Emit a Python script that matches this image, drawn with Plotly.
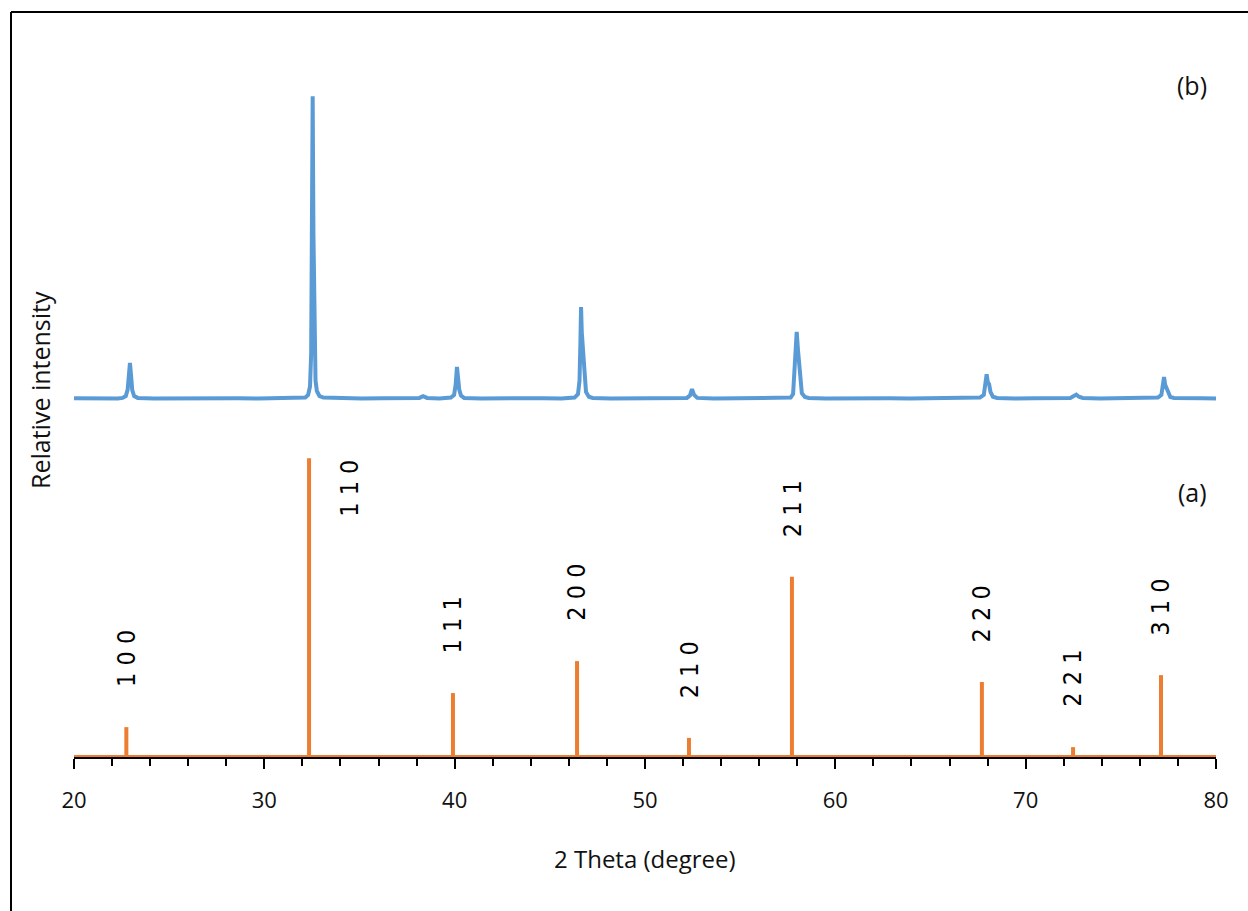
import plotly.graph_objects as go

# ---- Reference stick pattern (a): peak positions (2θ, degree) and relative intensities (%)
ref_two_theta = [22.75, 32.35, 39.91, 46.43, 52.31, 57.72, 67.70, 72.49, 77.11]
ref_intensity = [10.0, 100.0, 21.4, 32.1, 6.4, 60.3, 25.1, 3.3, 27.4]
ref_hkl = ["1 0 0", "1 1 0", "1 1 1", "2 0 0", "2 1 0", "2 1 1", "2 2 0", "2 2 1", "3 1 0"]

# ---- Measured pattern (b): 2θ (degree) and intensity above its own baseline
meas_two_theta = [
    20.00, 20.80, 21.60, 22.30,
    22.55, 22.72, 22.82, 22.88, 22.94, 23.00, 23.06, 23.16, 23.35,
    24.20, 25.30, 26.40, 27.50, 28.60, 29.70, 30.80, 31.60,
    32.15, 32.30, 32.40, 32.46, 32.50, 32.54, 32.58, 32.61, 32.64, 32.69, 32.76, 32.90, 33.10,
    34.00, 35.10, 36.20, 37.30,
    38.15, 38.34, 38.55,
    39.20,
    39.80, 39.97, 40.05, 40.12, 40.18, 40.24, 40.33, 40.50,
    41.40, 42.50, 43.60, 44.70, 45.60,
    46.30, 46.48, 46.56, 46.61, 46.64, 46.68, 46.73, 46.78, 46.83, 46.90, 47.05, 47.25,
    48.20, 49.30, 50.40, 51.40,
    52.20, 52.36, 52.47, 52.58, 52.75,
    53.60, 54.70, 55.80, 56.90,
    57.65, 57.78, 57.84, 57.88, 57.97, 58.04, 58.10, 58.16, 58.24, 58.40, 58.60,
    59.50, 60.60, 61.70, 62.80, 63.90, 65.00, 66.10, 67.00,
    67.60, 67.80, 67.88, 67.95, 68.01, 68.08, 68.15, 68.28, 68.50,
    69.40, 70.50, 71.60,
    72.35, 72.55, 72.66, 72.80, 73.00,
    73.90, 75.00, 76.10,
    76.95, 77.13, 77.21, 77.27, 77.33, 77.40, 77.48, 77.60, 77.80,
    78.60, 79.30, 80.00,
]
meas_intensity = [
    0.1, 0.0, 0.1, 0.0,
    0.2, 0.8, 3.0, 8.0, 11.9, 7.5, 2.8, 0.8, 0.2,
    0.0, 0.1, 0.0, 0.1, 0.1, 0.0, 0.1, 0.1,
    0.3, 1.2, 4.0, 15.0, 50.0, 101.2, 55.0, 30.0, 15.0, 6.0, 2.5, 0.8, 0.3,
    0.1, 0.0, 0.1, 0.0,
    0.2, 0.8, 0.2,
    0.0,
    0.3, 1.2, 4.5, 10.6, 7.0, 3.0, 1.0, 0.2,
    0.0, 0.1, 0.0, 0.1, 0.0,
    0.3, 1.5, 6.0, 20.0, 30.6, 22.0, 17.5, 15.0, 7.0, 2.2, 0.6, 0.2,
    0.0, 0.1, 0.0, 0.1,
    0.2, 1.0, 3.1, 1.2, 0.2,
    0.0, 0.1, 0.0, 0.1,
    0.3, 1.5, 8.0, 17.5, 22.3, 16.0, 10.5, 5.0, 1.8, 0.5, 0.2,
    0.0, 0.1, 0.0, 0.1, 0.0, 0.1, 0.0, 0.1,
    0.3, 1.2, 4.5, 8.1, 5.5, 4.8, 2.2, 0.6, 0.2,
    0.0, 0.1, 0.0,
    0.2, 0.9, 1.3, 0.6, 0.2,
    0.0, 0.1, 0.0,
    0.3, 1.2, 4.5, 7.2, 4.6, 3.6, 1.8, 0.5, 0.2,
    0.0, 0.1, 0.0,
]

# vertical offset that stacks pattern (b) above pattern (a)
STACK_OFFSET = 120.0

ORANGE = "#ED7D31"
BLUE = "#5B9BD5"
TEXT = "#111111"
FONT = "Open Sans, Noto Sans, sans-serif"
HKL_FONT = "DejaVu Sans Condensed, DejaVu Sans, sans-serif"

W, H = 1248, 911
ML, MR, MT, MB = 74, 32, 40, 154
PW, PH = W - ML - MR, H - MT - MB


def px_to_paper(px, py):
    """Convert a page pixel position into paper coordinates."""
    return (px - ML) / PW, (H - MB - py) / PH


fig = go.Figure()

# measured pattern (b)
fig.add_trace(go.Scatter(
    x=meas_two_theta,
    y=[STACK_OFFSET + v for v in meas_intensity],
    mode="lines",
    line=dict(color=BLUE, width=4),
    showlegend=False,
    hoverinfo="skip",
))

# baseline of stick pattern (a)
fig.add_trace(go.Scatter(
    x=[20, 80], y=[0, 0],
    mode="lines",
    line=dict(color=ORANGE, width=4),
    showlegend=False,
    hoverinfo="skip",
))

# sticks of pattern (a)
stick_x, stick_y = [], []
for tt, inten in zip(ref_two_theta, ref_intensity):
    stick_x += [tt, tt, None]
    stick_y += [0, inten, None]
fig.add_trace(go.Scatter(
    x=stick_x, y=stick_y,
    mode="lines",
    line=dict(color=ORANGE, width=4),
    showlegend=False,
    hoverinfo="skip",
))

annotations = []

# Miller index labels above the sticks
for tt, inten, hkl in zip(ref_two_theta, ref_intensity, ref_hkl):
    if inten >= 90:
        # tallest stick: label sits beside it, top-aligned
        annotations.append(dict(
            x=tt, y=inten, xref="x", yref="y", text=hkl, textangle=-90,
            showarrow=False, xanchor="center", yanchor="top", xshift=41,
            font=dict(family=HKL_FONT, size=25, color="black"),
        ))
    else:
        annotations.append(dict(
            x=tt, y=inten, xref="x", yref="y", text=hkl, textangle=-90,
            showarrow=False, xanchor="center", yanchor="bottom", yshift=38,
            font=dict(family=HKL_FONT, size=25, color="black"),
        ))

# panel letters
for label, py in (("(b)", 85), ("(a)", 492)):
    ax_, ay_ = px_to_paper(1192, py)
    annotations.append(dict(
        x=ax_, y=ay_, xref="paper", yref="paper", text=label, showarrow=False,
        xanchor="center", yanchor="middle", font=dict(family=FONT, size=25, color=TEXT),
    ))

# axis titles
tx, ty = px_to_paper(645, 858)
annotations.append(dict(
    x=tx, y=ty, xref="paper", yref="paper", text="2 Theta (degree)", showarrow=False,
    xanchor="center", yanchor="middle", font=dict(family=FONT, size=24, color=TEXT),
))
yx, yy = px_to_paper(40, 390)
annotations.append(dict(
    x=yx, y=yy, xref="paper", yref="paper", text="Relative intensity", showarrow=False,
    textangle=-90, xanchor="center", yanchor="middle",
    font=dict(family=FONT, size=25, color=TEXT),
))

# frame around the figure (top and left edges)
lx, _ = px_to_paper(11, 0)
rx, _ = px_to_paper(W + 2, 0)
_, ty_top = px_to_paper(0, 12)
_, ty_bot = px_to_paper(0, H + 2)
shapes = [
    dict(type="line", xref="paper", yref="paper", x0=lx, x1=rx, y0=ty_top, y1=ty_top,
         line=dict(color="black", width=2)),
    dict(type="line", xref="paper", yref="paper", x0=lx, x1=lx, y0=ty_top, y1=ty_bot,
         line=dict(color="black", width=2)),
]

fig.update_layout(
    width=W, height=H, autosize=False,
    margin=dict(l=ML, r=MR, t=MT, b=MB),
    paper_bgcolor="white", plot_bgcolor="white",
    font=dict(family=FONT, color=TEXT),
    annotations=annotations,
    shapes=shapes,
)

fig.update_xaxes(
    range=[20, 80],
    tickmode="linear", tick0=20, dtick=10,
    ticks="outside", ticklen=10, tickwidth=2, tickcolor="black",
    minor=dict(ticks="outside", ticklen=7, tickwidth=2, tickcolor="black", dtick=2, tick0=20),
    showline=True, linecolor="black", linewidth=2,
    showgrid=False, zeroline=False,
    tickfont=dict(family=FONT, size=22, color=TEXT),
    ticklabelstandoff=13,
)
fig.update_yaxes(range=[0, 240], visible=False, showgrid=False, zeroline=False)

fig.write_html("out.html")
